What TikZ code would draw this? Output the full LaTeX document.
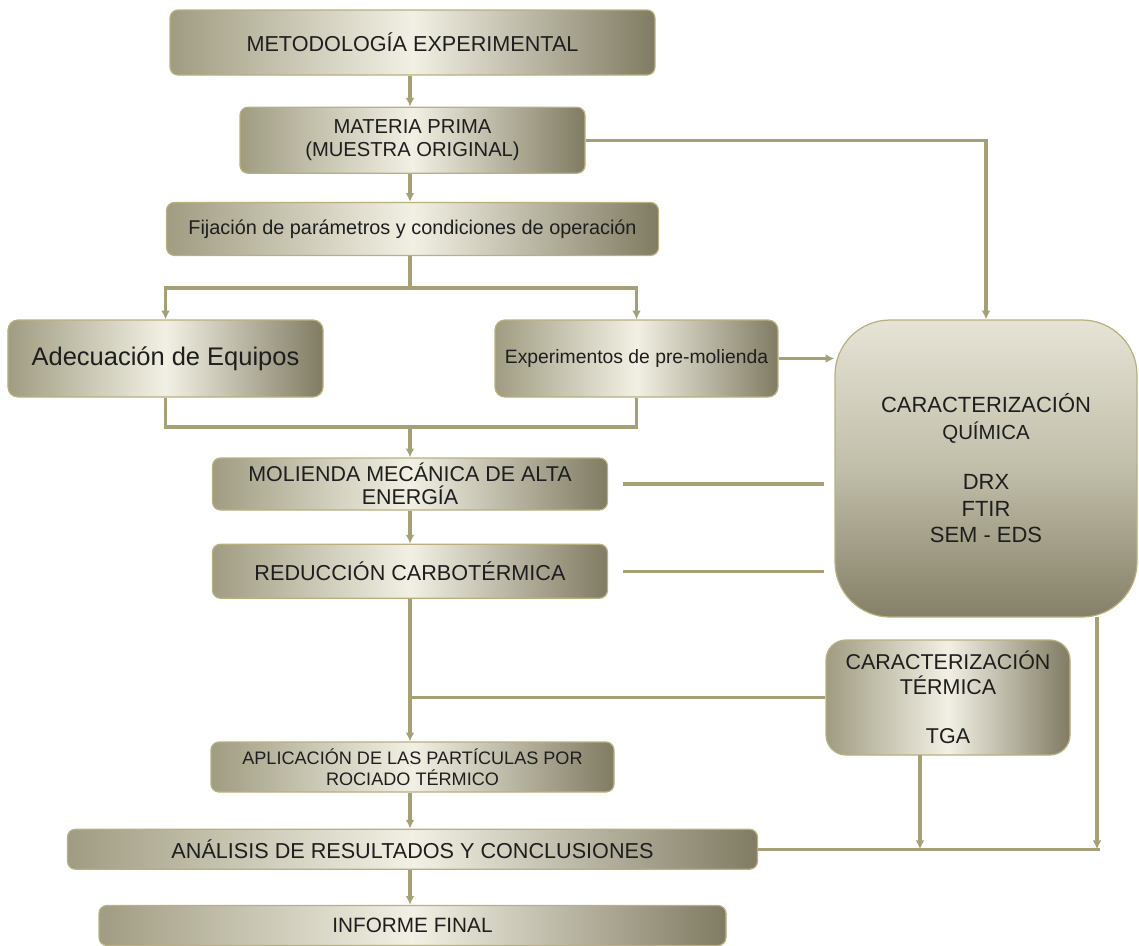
\documentclass[tikz,border=0pt]{standalone}
\usepackage{fontspec}
\setmainfont{Liberation Sans}
\usepackage{tikz}
\usetikzlibrary{shapes,arrows.meta,positioning,calc}

\definecolor{boxdark}{RGB}{128,123,98}
\definecolor{boxmid}{RGB}{160,156,130}
\definecolor{boxlight}{RGB}{242,240,228}
\definecolor{edgecol}{RGB}{185,176,128}
\definecolor{linecol}{RGB}{165,160,118}
\definecolor{textcol}{RGB}{30,30,30}

\begin{document}
\begin{tikzpicture}[
    node distance=0.6cm,
    block/.style={rectangle, draw=edgecol, line width=0.7pt, left color=boxmid, right color=boxdark, middle color=boxlight, text=textcol, align=center, rounded corners=0.16cm, inner sep=2pt, font=\fontsize{12.3}{14}\selectfont},
    bigblock/.style={block, rounded corners=1.1cm, top color=boxlight!85!boxmid, bottom color=boxdark!85!boxmid, middle color=boxmid!60!boxlight},
    link/.style={draw=linecol, line width=1.8pt},
    arrow/.style={link, -{Latex[length=5pt,width=5pt]}}
]
    \useasboundingbox (0,0) rectangle (22.78,-18.9);

    % main column
    \node [block, minimum width=9.7cm, minimum height=1.3cm] (metod) at (8.25,-0.85) {METODOLOGÍA EXPERIMENTAL};
    \node [block, minimum width=6.9cm, minimum height=1.32cm, below=0.62cm of metod, font=\fontsize{11.5}{13}\selectfont] (materia) {MATERIA PRIMA\\(MUESTRA ORIGINAL)};
    \node [block, minimum width=9.84cm, minimum height=1.06cm, below=0.56cm of materia, font=\fontsize{11.3}{13}\selectfont] (fijacion) {Fijación de parámetros y condiciones de operación};
    \node [block, minimum width=6.3cm, minimum height=1.54cm, rounded corners=0.2cm, font=\fontsize{14.5}{16}\selectfont] (adecuacion) at (3.31,-7.17) {Adecuación de Equipos};
    \node [block, minimum width=5.66cm, minimum height=1.54cm, rounded corners=0.2cm, font=\fontsize{11}{13}\selectfont] (experim) at (12.73,-7.17) {Experimentos de pre-molienda};
    \node [block, minimum width=7.9cm, minimum height=1.04cm, font=\fontsize{12.2}{13}\selectfont] (molienda) at (8.2,-9.68) {MOLIENDA MECÁNICA DE ALTA\\ENERGÍA};
    \node [block, minimum width=7.9cm, minimum height=1.08cm, below=0.66cm of molienda] (reduccion) {REDUCCIÓN CARBOTÉRMICA};
    \node [block, minimum width=8.06cm, minimum height=1.0cm, font=\fontsize{10.3}{12}\selectfont] (aplicacion) at (8.25,-15.34) {APLICACIÓN DE LAS PARTÍCULAS POR\\ROCIADO TÉRMICO};
    \node [block, minimum width=13.8cm, minimum height=0.8cm, below=0.72cm of aplicacion] (analisis) {ANÁLISIS DE RESULTADOS Y CONCLUSIONES};
    \node [block, minimum width=12.54cm, minimum height=0.8cm, below=0.7cm of analisis, font=\fontsize{11.8}{13}\selectfont] (informe) {INFORME FINAL};

    % characterisation
    \node [bigblock, minimum width=6.04cm, minimum height=5.94cm, font=\fontsize{12.5}{15.3}\selectfont] (quimica) at (19.72,-9.37) {CARACTERIZACIÓN\\{\fontsize{11.6}{11}\selectfont QUÍMICA}\\[0.45cm]DRX\\FTIR\\SEM - EDS};
    \node [block, minimum width=4.88cm, minimum height=2.3cm, rounded corners=0.4cm, font=\fontsize{12.2}{14}\selectfont] (termica) at (18.96,-13.95) {CARACTERIZACIÓN\\TÉRMICA\\[0.5cm]TGA};

    \coordinate (split) at (8.2,-5.76);
    \coordinate (join) at (8.2,-8.54);
    \coordinate (qout) at (21.94,-12.34);
    \coordinate (tout) at (18.4,-15.1);

    % connectors
    \draw [arrow] (metod.south -| split) -- (materia.north -| split);
    \draw [arrow] (materia.south -| split) -- (fijacion.north -| split);
    \draw [link] (fijacion.south -| split) -- (split);
    \draw [arrow] (split) -| (adecuacion.north);
    \draw [arrow] (split) -| (experim.north);
    \draw [link] (adecuacion.south) |- (join) -| (experim.south);
    \draw [arrow] (join) -- (molienda.north -| split);
    \draw [arrow] (molienda.south -| split) -- (reduccion.north -| split);
    \draw [arrow] (reduccion.south -| split) -- (aplicacion.north -| split);
    \draw [link] (termica.west) -- (termica.west -| split);
    \draw [arrow] (aplicacion.south -| split) -- (analisis.north -| split);
    \draw [arrow] (analisis.south -| split) -- (informe.north -| split);

    \draw [arrow] (materia.east) -| (quimica.north);
    \draw [arrow] (experim.east) -- (experim.east -| quimica.west);
    \draw [link, shorten <=0.3cm, shorten >=0.2cm] (molienda.east) -- (molienda.east -| quimica.west);
    \draw [link, shorten <=0.3cm, shorten >=0.2cm] (reduccion.east) -- (reduccion.east -| quimica.west);
    \draw [link] (analisis.east) -- ($(qout |- analisis.east)+(0.06,0)$);
    \draw [arrow] (qout) -- (qout |- analisis.east);
    \draw [arrow] (tout) -- (tout |- analisis.east);
\end{tikzpicture}
\end{document}
